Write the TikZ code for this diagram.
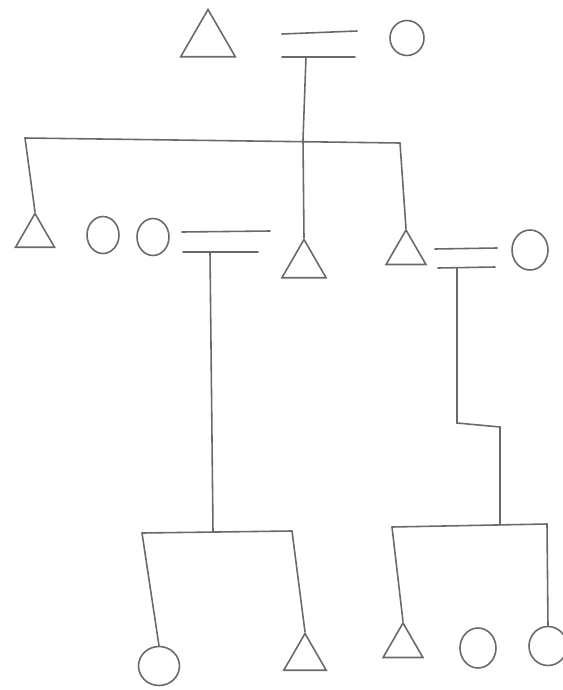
\documentclass[tikz,border=0pt]{standalone}
\usepackage{tikz}
\usetikzlibrary{shapes.geometric, positioning}
\definecolor{pencil}{RGB}{105,105,105}
\tikzset{
  kin/.style={draw=pencil, line width=0.9pt, line cap=round},
  male/.style={kin, regular polygon, regular polygon sides=3, inner sep=0pt, minimum size=0.96cm},
  female/.style={kin, ellipse, inner sep=0pt, minimum width=0.64cm, minimum height=0.74cm},
}

\begin{document}
\begin{tikzpicture}[x=0.02cm, y=-0.02cm]
  \useasboundingbox (0,0) rectangle (562,690);

  % First generation
  \node[male, minimum size=1.26cm] (gpa) at (208,41) {};
  \node[female, minimum width=0.68cm, minimum height=0.7cm] (gma) at (407,38) {};
  \draw[kin] (282,34) -- (357,31);
  \draw[kin] (282,57) -- (355,57);
  \coordinate (wed1) at (306,57);

  % Sibling bar below
  \coordinate (bar1L) at (25,138);
  \coordinate (bar1M) at (303,140);
  \coordinate (bar1R) at (400,143);
  \draw[kin] (wed1) -- (bar1M);
  \draw[kin] (bar1L) -- (bar1R);

  % Second generation
  \node[male, minimum size=0.9cm] (son1) at (35,236) {};
  \node[female] (dau1) at (103,235) {};
  \node[female] (dau2) at (153,237) {};
  \draw[kin] (182,232) -- (270,231);
  \draw[kin] (183,252) -- (258,252);
  \coordinate (wed2) at (210,252);
  \node[male, minimum size=1.02cm] (son2) at (304,265) {};
  \node[male, minimum size=0.92cm] (son3) at (406,253) {};
  \draw[kin] (435,249) -- (497,248);
  \draw[kin] (438,268) -- (495,267);
  \coordinate (wed3) at (457,268);
  \node[female, minimum width=0.72cm, minimum height=0.8cm] (wife3) at (530,250) {};

  \draw[kin] (bar1L) -- (son1.corner 1);
  \draw[kin] (bar1M) -- (son2.corner 1);
  \draw[kin] (bar1R) -- (son3.corner 1);

  % Third generation, left family
  \coordinate (bar2L) at (142,533);
  \coordinate (bar2M) at (213,532);
  \coordinate (bar2R) at (292,531);
  \draw[kin] (wed2) -- (bar2M);
  \draw[kin] (bar2L) -- (bar2R);
  \node[female, minimum width=0.82cm, minimum height=0.78cm] (gdau1) at (159,666) {};
  \node[male, minimum size=0.98cm] (gson1) at (305,658) {};
  \draw[kin] (bar2L) -- (gdau1.north);
  \draw[kin] (bar2R) -- (gson1.corner 1);

  % Third generation, right family
  \coordinate (step1) at (457,423);
  \coordinate (step2) at (500,427);
  \coordinate (bar3L) at (392,527);
  \coordinate (bar3M) at (500,525);
  \coordinate (bar3R) at (547,524);
  \draw[kin] (wed3) -- (step1) -- (step2) -- (bar3M);
  \draw[kin] (bar3L) -- (bar3R);
  \node[male, minimum size=0.92cm] (gson2) at (403,646) {};
  \node[female, minimum width=0.72cm, minimum height=0.8cm] (gdau2) at (478,648) {};
  \node[female, minimum width=0.76cm, minimum height=0.78cm] (gdau3) at (548,646) {};
  \draw[kin] (bar3L) -- (gson2.corner 1);
  \draw[kin] (bar3R) -- (gdau3.north);
\end{tikzpicture}
\end{document}
